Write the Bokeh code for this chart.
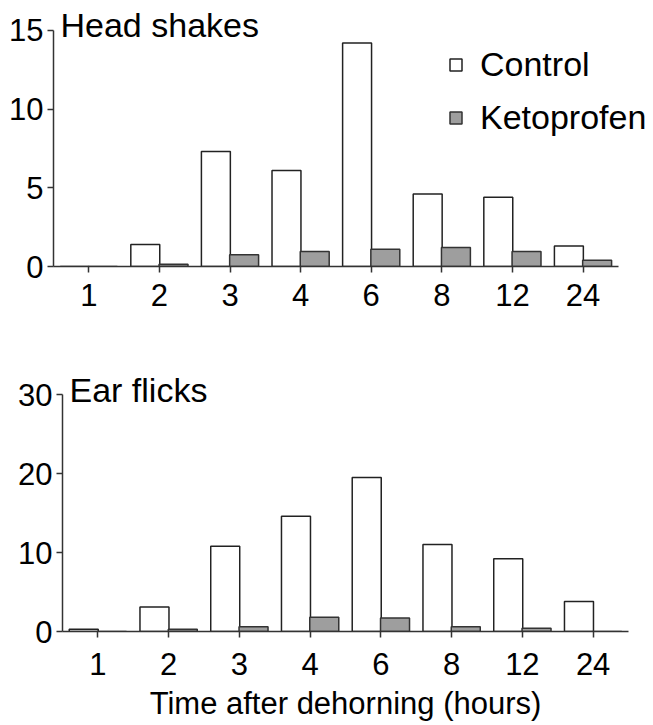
from bokeh.plotting import figure
from bokeh.models import ColumnDataSource, Range1d, Legend, LegendItem, Label, FixedTicker
from bokeh.transform import dodge
from bokeh.embed import file_html
from bokeh.resources import INLINE

hours = ["1", "2", "3", "4", "6", "8", "12", "24"]
head_control = [0, 1.4, 7.3, 6.1, 14.2, 4.6, 4.4, 1.3]
head_keto = [0, 0.15, 0.75, 0.95, 1.1, 1.2, 0.95, 0.4]
ear_control = [0.3, 3.1, 10.8, 14.6, 19.5, 11.0, 9.2, 3.8]
ear_keto = [0, 0.3, 0.6, 1.8, 1.7, 0.6, 0.4, 0]
head_ticks = [0, 5, 10, 15]
ear_ticks = [0, 10, 20, 30]

FONT = "Liberation Sans"
AXIS_COLOR = "#333333"
idx = list(range(len(hours)))


def make_panel(control, keto, ticks, ymax, xend, title, width, height, left, right, top, bottom,
               xstandoff, xlabel=None):
    src = ColumnDataSource(dict(pos=idx, control=control, keto=keto))
    p = figure(x_range=Range1d(-0.5, xend), y_range=Range1d(0, ymax),
               width=width, height=height, output_backend="svg", toolbar_location=None,
               min_border_left=left, min_border_right=right, min_border_top=top,
               min_border_bottom=bottom)
    p.outline_line_color = None
    p.xgrid.grid_line_color = None
    p.ygrid.grid_line_color = None
    p.background_fill_color = "white"
    p.border_fill_color = "white"

    r1 = p.vbar(x=dodge("pos", -0.2), top="control", width=0.41, source=src,
                fill_color="white", line_color="#222222", line_width=1.5)
    r2 = p.vbar(x=dodge("pos", 0.2), top="keto", width=0.41, source=src,
                fill_color="#9e9e9e", line_color="#333333", line_width=1.5)

    for ax in (p.xaxis[0], p.yaxis[0]):
        ax.axis_line_color = AXIS_COLOR
        ax.axis_line_width = 1.5
        ax.major_tick_line_color = AXIS_COLOR
        ax.major_tick_line_width = 1.5
        ax.major_tick_out = 6
        ax.major_tick_in = 0
        ax.minor_tick_line_color = None
        ax.major_label_text_font = FONT
        ax.major_label_text_font_size = "31px"
        ax.major_label_text_color = "black"
    p.yaxis[0].major_label_standoff = 4
    p.yaxis[0].ticker = FixedTicker(ticks=ticks)
    p.yaxis[0].bounds = (ticks[0], ticks[-1])
    p.xaxis[0].ticker = FixedTicker(ticks=idx)
    p.xaxis[0].major_label_overrides = {i: h for i, h in zip(idx, hours)}
    p.xaxis[0].bounds = (-0.5, len(hours) - 0.5)
    p.xaxis[0].major_label_standoff = xstandoff
    if xlabel:
        p.xaxis[0].axis_label = xlabel
        p.xaxis[0].axis_label_text_font = FONT
        p.xaxis[0].axis_label_text_font_size = "31px"
        p.xaxis[0].axis_label_text_font_style = "normal"
        p.xaxis[0].axis_label_text_color = "black"
        p.xaxis[0].axis_label_standoff = 8

    p.add_layout(Label(x=7, y=242, x_units="screen", y_units="screen", text=title,
                       text_font=FONT, text_font_size="34px", text_color="black",
                       text_baseline="alphabetic"))
    return p, r1, r2


p1, c1, k1 = make_panel(head_control, head_keto, head_ticks, 16.14, 7.956, "Head shakes",
                        650, 340, 53, 0, 12, 74, 11)
legend = Legend(items=[LegendItem(label="Control", renderers=[c1]),
                       LegendItem(label="Ketoprofen", renderers=[k1])],
                location=(395, 129))
legend.border_line_color = None
legend.background_fill_alpha = 0
legend.padding = 0
legend.margin = 0
legend.glyph_width = 15
legend.glyph_height = 15
legend.label_standoff = 17
legend.label_text_font = FONT
legend.label_text_font_size = "34px"
legend.label_text_color = "black"
legend.label_height = 40
legend.spacing = 13
p1.add_layout(legend)

p2, c2, k2 = make_panel(ear_control, ear_keto, ear_ticks, 33.04, 7.5, "Ear flicks",
                        645, 385, 62, 17, 30, 94, 15, xlabel="Time after dehorning (hours)")

open("out.html", "w").write(file_html([p1, p2], INLINE))
